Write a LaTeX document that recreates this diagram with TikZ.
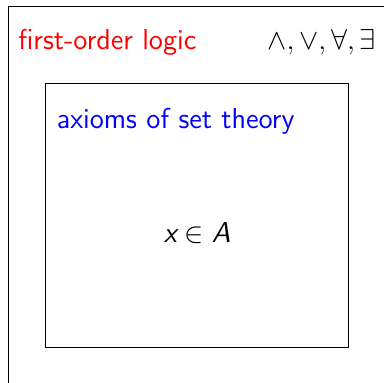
\documentclass[tikz,border=0pt]{standalone}
\usepackage{amsmath,amssymb}
\usepackage{tikz}
\usetikzlibrary{positioning}

\begin{document}
\begin{tikzpicture}[
    x=1pt, y=1pt,
    outerbox/.style={rectangle, anchor=north west, minimum width=260pt, minimum height=260pt, inner sep=0pt, draw=black},
    innerbox/.style={rectangle, anchor=north west, minimum width=151.7pt, minimum height=132.1pt, inner sep=0pt, draw=black},
    boxtitle/.style={anchor=base west, inner sep=0pt, font=\sffamily\Large},
    formula/.style={anchor=base, inner sep=0pt, font=\sffamily\Large},
]

    % Page
    \clip (0,0) rectangle (192,-191.5);

    % Logic frame
    \node (logic) [outerbox] at (3.75,-3) {};
    \node (logic_title) [boxtitle, text=red] at (9,-24.8) {first-order logic};
    \node (symbols) [boxtitle] at (133.5,-24.8) {$\wedge, \vee, \forall, \exists$};

    % Set theory frame
    \node (sets) [innerbox] at (22.5,-41.4) {};
    \node (sets_title) [boxtitle, text=blue] at (28.2,-64.1) {axioms of set theory};
    \node (member) [formula] at (98.6,-121.5) {$\textit{x} \in \textit{A}$};

\end{tikzpicture}
\end{document}
